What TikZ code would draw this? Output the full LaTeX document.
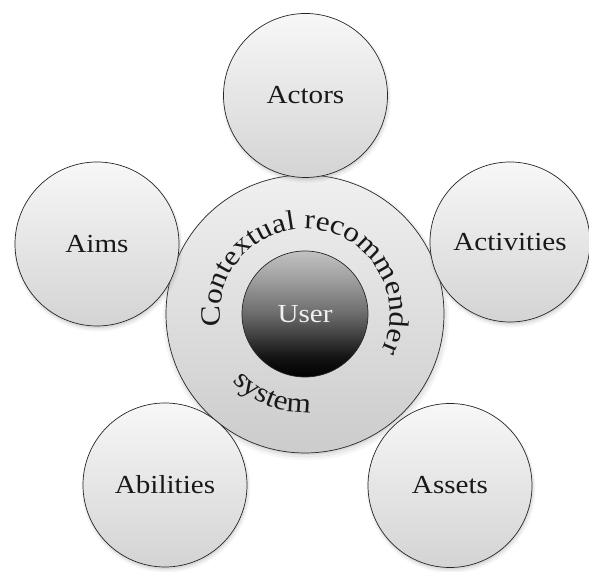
\documentclass[tikz,border=0pt]{standalone}
\usepackage{fontspec}
\setmainfont{Liberation Serif}
\newfontfamily\labfont[FakeStretch=1.12]{Liberation Serif}
\usetikzlibrary{decorations.text,shadows}
\pgfdeclareverticalshading{usershade}{100bp}{color(0bp)=(black); color(25bp)=(black); color(33bp)=(black!92); color(50bp)=(black!58); color(65bp)=(black!36); color(75bp)=(black!24); color(100bp)=(black!24)}
\begin{document}
\begin{tikzpicture}[x=1pt,y=1pt,
  softshadow/.style={
    drop shadow={shadow xshift=1pt, shadow yshift=-3pt, shadow scale=1.03, opacity=0.07},
    drop shadow={shadow xshift=1pt, shadow yshift=-2.5pt, shadow scale=1.015, opacity=0.10},
    drop shadow={shadow xshift=0.5pt, shadow yshift=-2pt, opacity=0.16}},
  sat/.style={circle, draw=black!85, line width=0.7pt, top color=black!3, bottom color=black!17,
    minimum size=#1, inner sep=0pt, font=\labfont\fontsize{26}{30}\selectfont, text=black!90, softshadow},
  sat/.default=164pt,
  hub/.style={circle, draw=black!85, line width=0.7pt, top color=black!6, bottom color=black!20,
    minimum size=278pt, inner sep=0pt, softshadow},
  core/.style={circle, draw=black!85, line width=0.7pt, shading=usershade, minimum size=126pt,
    inner sep=0pt, font=\labfont\fontsize{26}{30}\selectfont, text=white!94!black},
  arctext/.style={decorate, decoration={text along path, text align=center, text color=black!90,
    text={|\labfont\fontsize{28}{28}\selectfont|#1}}}
]
\useasboundingbox (0,0) rectangle (589,572);
\node[hub] (M) at (305,258) {};
\node[sat] (actors) at (305.5,476.5) {Actors};
\node[sat] (aims) at (97,328) {Aims};
\node[sat=160pt] (activities) at (510,330) {Activities};
\node[sat] (abilities) at (165,87) {Abilities};
\node[sat] (assets) at (450,86.5) {Assets};
\node[core] (U) at (305,258) {User};
\path[arctext={Contextual recommender}] (M.center) ++(191.5:85) arc[start angle=191.5, end angle=-28.5, radius=85];
\path[arctext={system}] (M.center) ++(-152:99) arc[start angle=-152, end angle=-72, radius=99];
\end{tikzpicture}
\end{document}
